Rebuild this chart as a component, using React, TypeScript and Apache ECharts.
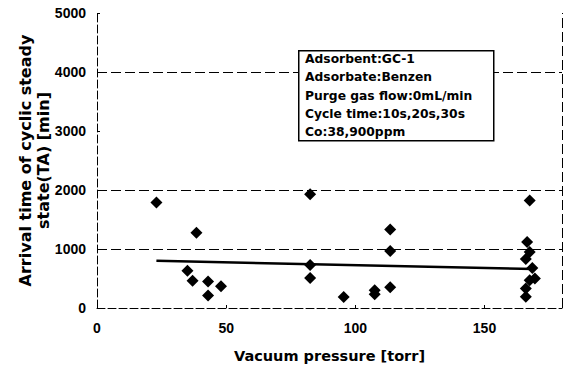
import React, { useEffect, useRef } from "react";
import * as echarts from "echarts";

const xValues = [23, 38.5, 35, 37, 43, 48, 43, 82.5, 82.5, 82.5, 95.5, 107.5, 107.5, 113.5, 113.5, 113.5, 167.5, 166.5, 167.5, 166, 168.5, 169.5, 167.5, 166, 166];
const yValues = [1790, 1275, 630, 460, 450, 370, 210, 1930, 730, 510, 185, 300, 235, 1330, 965, 350, 1820, 1120, 950, 830, 680, 500, 470, 330, 190];
const trendX = [23, 169];
const trendY = [800, 660];
const gridValues = [1000, 2000, 4000];
const infoLines = [
  "Adsorbent:GC-1",
  "Adsorbate:Benzen",
  "Purge gas flow:0mL/min",
  "Cycle time:10s,20s,30s",
  "Co:38,900ppm",
];

const FONT = "DejaVu Sans";
const TICK_FONT = "Liberation Sans";

export default function App() {
  const ref = useRef<HTMLDivElement>(null);
  useEffect(() => {
    const chart = echarts.init(ref.current!, null, { renderer: "svg" });
    const points = xValues.map((x, i) => [x, yValues[i]]);
    const trend = trendX.map((x, i) => [x, trendY[i]]);
    chart.setOption({
      animation: false,
      backgroundColor: "#ffffff",
      textStyle: { fontFamily: FONT },
      grid: { left: 97, right: 7, top: 13, bottom: 63, containLabel: false, outerBoundsMode: "none" },
      xAxis: {
        type: "value",
        min: 0,
        max: 180,
        interval: 50,
        name: "Vacuum pressure [torr]",
        nameLocation: "middle",
        nameGap: 40,
        nameMoveOverlap: false,
        nameTextStyle: { fontSize: 14.5, fontWeight: "bold", color: "#000", fontFamily: FONT },
        axisLine: { show: true, lineStyle: { color: "#000", width: 1, type: [8, 3] } },
        axisTick: { show: true, inside: true, length: 3, lineStyle: { color: "#000" } },
        axisLabel: { fontSize: 14, fontWeight: "bold", color: "#000", margin: 13, showMaxLabel: false, fontFamily: TICK_FONT },
        splitLine: { show: false },
      },
      yAxis: {
        type: "value",
        min: 0,
        max: 5000,
        interval: 1000,
        name: "Arrival time of cyclic steady\nstate(TA) [min]",
        nameLocation: "middle",
        nameGap: 45,
        nameMoveOverlap: false,
        nameRotate: 90,
        nameTextStyle: { fontSize: 16, fontWeight: "bold", color: "#000", lineHeight: 18, fontFamily: FONT },
        axisLine: { show: true, lineStyle: { color: "#000", width: 1, type: [8, 3] } },
        axisTick: { show: true, inside: true, length: 3, lineStyle: { color: "#000" } },
        axisLabel: { fontSize: 14, fontWeight: "bold", color: "#000", margin: 11, fontFamily: TICK_FONT, formatter: (v: number) => String(v) },
        splitLine: { show: false },
      },
      series: [
        {
          type: "scatter",
          data: points,
          symbol: "diamond",
          symbolSize: 12,
          itemStyle: { color: "#000", opacity: 1 },
          z: 3,
          markLine: {
            silent: true,
            symbol: "none",
            label: { show: false },
            lineStyle: { color: "#000", width: 1, type: [10, 4] },
            data: [...gridValues.map((v) => ({ yAxis: v })), { xAxis: 180 }],
          },
        },
        {
          type: "line",
          data: trend,
          symbol: "none",
          lineStyle: { color: "#000", width: 2.5 },
          z: 2,
        },
      ],
      graphic: [
        {
          type: "rect",
          left: 298,
          top: 50,
          shape: { width: 195, height: 90 },
          style: { fill: "#fff", stroke: "#000", lineWidth: 1.5 },
          z: 10,
        },
        ...infoLines.map((t, i) => ({
          type: "text",
          left: 305,
          top: 53 + i * 18.3,
          style: { text: t, fontSize: 12.3, fontWeight: "bold", fill: "#000", fontFamily: FONT },
          z: 11,
        })),
      ],
    });
    return () => chart.dispose();
  }, []);
  return <div ref={ref} style={{ width: 569, height: 371, position: "absolute", left: 0, top: 0 }} />;
}
